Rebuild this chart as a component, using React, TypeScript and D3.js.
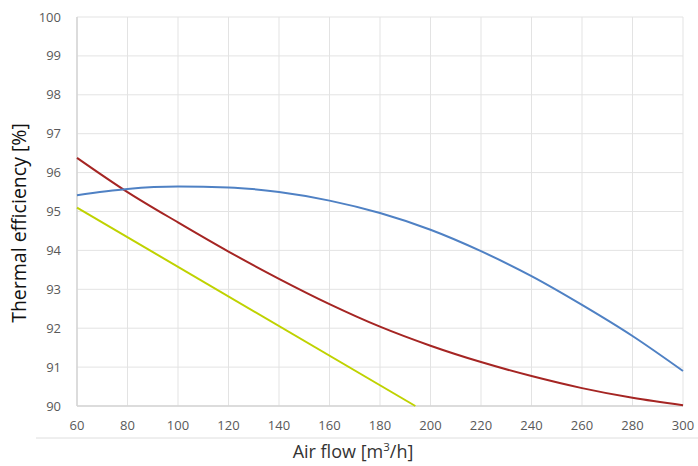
import React from "react";
import * as d3 from "d3";

const xTicks = [60, 80, 100, 120, 140, 160, 180, 200, 220, 240, 260, 280, 300];
const yTicks = [90, 91, 92, 93, 94, 95, 96, 97, 98, 99, 100];

const blueX = [60, 80, 100, 120, 140, 160, 180, 200, 220, 240, 260, 280, 300];
const blueY = [95.42, 95.58, 95.64, 95.62, 95.5, 95.28, 94.96, 94.53, 93.98, 93.34, 92.6, 91.8, 90.9];

const redX = [60, 80, 100, 120, 140, 160, 180, 200, 220, 240, 260, 280, 300];
const redY = [96.38, 95.5, 94.72, 93.97, 93.27, 92.62, 92.04, 91.55, 91.13, 90.77, 90.46, 90.21, 90.02];

const greenX = [60, 194];
const greenY = [95.1, 90];

const W = 698, H = 466;
const L = 77, R = 683, T = 17, B = 406;

export default function App() {
  const x = d3.scaleLinear().domain([60, 300]).range([L, R]);
  const y = d3.scaleLinear().domain([90, 100]).range([B, T]);
  const mk = (xs: number[], ys: number[]) =>
    d3.line<number>().x((_, i) => x(xs[i])).y((_, i) => y(ys[i])).curve(d3.curveMonotoneX)(xs) || "";
  const font = "'Open Sans', 'Noto Sans', sans-serif";
  return (
    <svg width={W} height={H} style={{ position: "absolute", left: 0, top: 0 }} fontFamily={font}>
      <rect width={W} height={H} fill="#fff" />
      {xTicks.map((t) => (
        <line key={"gx" + t} x1={x(t)} x2={x(t)} y1={T} y2={B} stroke="#e3e3e3" strokeWidth={1} />
      ))}
      {yTicks.map((t) => (
        <line key={"gy" + t} x1={L} x2={R} y1={y(t)} y2={y(t)} stroke="#e3e3e3" strokeWidth={1} />
      ))}
      <line x1={L} x2={L} y1={T} y2={B} stroke="#d4d4d4" strokeWidth={1.5} />
      <line x1={L} x2={R} y1={B} y2={B} stroke="#d4d4d4" strokeWidth={1.5} />
      <line x1={36} x2={W} y1={438} y2={438} stroke="#dedede" strokeWidth={1} />
      {yTicks.map((t) => (
        <text key={"ty" + t} x={61} y={y(t)} dy="0.35em" textAnchor="end" fontSize={13} fill="#595959">{t}</text>
      ))}
      {xTicks.map((t) => (
        <text key={"tx" + t} x={x(t)} y={425} dy="0.35em" textAnchor="middle" fontSize={13} fill="#595959">{t}</text>
      ))}
      <path d={mk(greenX, greenY)} fill="none" stroke="#bfd200" strokeWidth={2} />
      <path d={mk(redX, redY)} fill="none" stroke="#a52523" strokeWidth={2} />
      <path d={mk(blueX, blueY)} fill="none" stroke="#4f81c4" strokeWidth={2} />
      <text x={353} y={458} textAnchor="middle" fontSize={18} fill="#333">
        Air flow [m<tspan dy={-7} fontSize={11.5}>3</tspan><tspan dy={7}>/h]</tspan>
      </text>
      <text transform={`translate(26, 223) rotate(-90)`} textAnchor="middle" fontSize={19.5} fill="#111">
        Thermal efficiency [%]
      </text>
    </svg>
  );
}
